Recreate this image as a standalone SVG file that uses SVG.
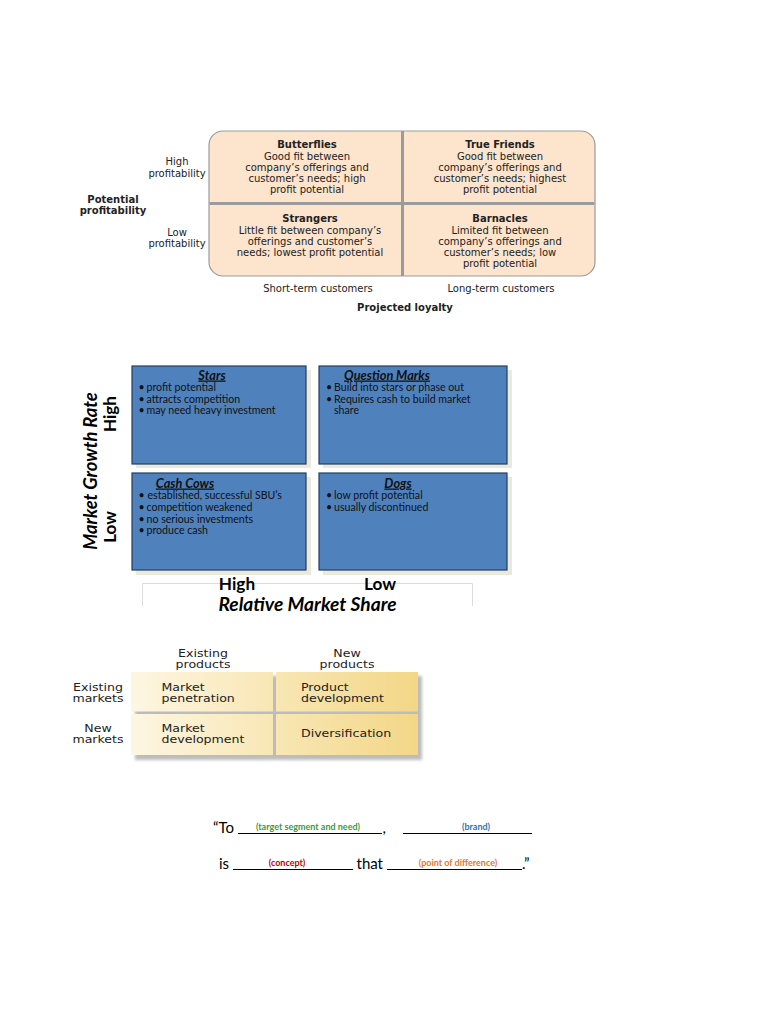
<svg xmlns="http://www.w3.org/2000/svg" width="784" height="1015" viewBox="0 0 784 1015">
<defs>
<style>
.m1 { font-family: "DejaVu Sans", sans-serif; font-size: 10px; fill: #222; text-anchor: middle; }
.b { font-weight: bold; }
.bcg { font-family: Lato, "Open Sans", sans-serif; font-size: 10.6px; fill: #111; }
.bt { font-family: Lato, sans-serif; font-size: 12.8px; font-weight: bold; font-style: italic; text-decoration: underline; text-anchor: middle; fill: #111; }
.box { fill: #4f81bd; stroke: #243f60; stroke-width: 1.2; }
.shadow { fill: #ebe8dc; }
.ax { font-family: Lato, sans-serif; font-weight: bold; fill: #000; text-anchor: middle; }
.an { font-family: "DejaVu Sans", sans-serif; font-size: 10.5px; fill: #222; }
.mid { text-anchor: middle; }
.ps { font-family: Lato, sans-serif; font-size: 15px; fill: #000; }
.lbl { font-family: Lato, sans-serif; font-size: 9px; font-weight: bold; text-anchor: middle; }
.ul { stroke: #000; stroke-width: 1; }
</style>
<linearGradient id="gold" x1="131" y1="0" x2="418" y2="0" gradientUnits="userSpaceOnUse">
<stop offset="0" stop-color="#fdf6e2"/><stop offset="1" stop-color="#f3d787"/>
</linearGradient>
<filter id="blur" x="-10%" y="-10%" width="120%" height="130%"><feGaussianBlur stdDeviation="1.5"/></filter>
</defs>
<rect width="784" height="1015" fill="#fff"/>

<!-- Customer loyalty / profitability matrix -->
<g id="loyalty-matrix">
<rect x="209" y="131" width="386" height="145" rx="14" fill="#fde4cc" stroke="#9b9b9b" stroke-width="1.2"/>
<line x1="402.5" y1="131" x2="402.5" y2="276" stroke="#9b9b9b" stroke-width="3"/>
<line x1="209.6" y1="203.5" x2="594.4" y2="203.5" stroke="#9b9b9b" stroke-width="3"/>
</g>
<g id="butterflies">
<text class="m1 b" x="307" y="148">Butterflies</text>
<text class="m1" x="307" y="160">Good fit between</text>
<text class="m1" x="307" y="171">company’s offerings and</text>
<text class="m1" x="307" y="182">customer’s needs; high</text>
<text class="m1" x="307" y="193">profit potential</text>
</g>
<g id="true-friends">
<text class="m1 b" x="500" y="148">True Friends</text>
<text class="m1" x="500" y="160">Good fit between</text>
<text class="m1" x="500" y="171">company’s offerings and</text>
<text class="m1" x="500" y="182">customer’s needs; highest</text>
<text class="m1" x="500" y="193">profit potential</text>
</g>
<g id="strangers">
<text class="m1 b" x="310" y="222">Strangers</text>
<text class="m1" x="310" y="234">Little fit between company’s</text>
<text class="m1" x="310" y="245">offerings and customer’s</text>
<text class="m1" x="310" y="256">needs; lowest profit potential</text>
</g>
<g id="barnacles">
<text class="m1 b" x="500" y="222">Barnacles</text>
<text class="m1" x="500" y="234">Limited fit between</text>
<text class="m1" x="500" y="245">company’s offerings and</text>
<text class="m1" x="500" y="256">customer’s needs; low</text>
<text class="m1" x="500" y="267">profit potential</text>
</g>
<g id="loyalty-axes">
<text class="m1" x="177" y="165">High</text>
<text class="m1" x="177" y="177">profitability</text>
<text class="m1 b" x="113" y="203">Potential</text>
<text class="m1 b" x="113" y="214">profitability</text>
<text class="m1" x="177" y="236">Low</text>
<text class="m1" x="177" y="247">profitability</text>
<text class="m1" x="318" y="292">Short-term customers</text>
<text class="m1" x="501" y="292">Long-term customers</text>
<text class="m1 b" x="405" y="311">Projected loyalty</text>
</g>

<!-- BCG matrix -->
<g id="stars">
<rect class="shadow" x="136" y="370" width="175" height="98"/>
<rect class="box" x="132" y="366" width="174" height="98"/>
<text class="bt" x="212" y="379.5">Stars</text>
<text class="bcg" x="138.5" y="391">•</text><text class="bcg" x="146.5" y="391">profit potential</text>
<text class="bcg" x="138.5" y="402.5">•</text><text class="bcg" x="146.5" y="402.5">attracts competition</text>
<text class="bcg" x="138.5" y="414">•</text><text class="bcg" x="146.5" y="414">may need heavy investment</text>
</g>
<g id="question-marks">
<rect class="shadow" x="323" y="370" width="189" height="98"/>
<rect class="box" x="319" y="366" width="188" height="98"/>
<text class="bt" x="387" y="379.5">Question Marks</text>
<text class="bcg" x="326" y="391">•</text><text class="bcg" x="334" y="391">Build into stars or phase out</text>
<text class="bcg" x="326" y="402.5">•</text><text class="bcg" x="334" y="402.5">Requires cash to build market</text>
<text class="bcg" x="334" y="414">share</text>
</g>
<g id="cash-cows">
<rect class="shadow" x="136" y="477" width="175" height="98"/>
<rect class="box" x="132" y="473" width="174" height="97"/>
<text class="bt" x="185" y="487.5">Cash Cows</text>
<text class="bcg" x="138.5" y="499">•</text><text class="bcg" x="147.5" y="499">established, successful SBU’s</text>
<text class="bcg" x="138.5" y="511">•</text><text class="bcg" x="146.5" y="511">competition weakened</text>
<text class="bcg" x="138.5" y="522.5">•</text><text class="bcg" x="146.5" y="522.5">no serious investments</text>
<text class="bcg" x="138.5" y="534">•</text><text class="bcg" x="146.5" y="534">produce cash</text>
</g>
<g id="dogs">
<rect class="shadow" x="323" y="477" width="189" height="98"/>
<rect class="box" x="319" y="473" width="188" height="97"/>
<text class="bt" x="398" y="487.5">Dogs</text>
<text class="bcg" x="326" y="499">•</text><text class="bcg" x="334" y="499">low profit potential</text>
<text class="bcg" x="326" y="510.5">•</text><text class="bcg" x="334" y="510.5">usually discontinued</text>
</g>
<g id="bcg-axes">
<path d="M142.5,606 V583.5 H472.5 V606" fill="none" stroke="#dcdcdc" stroke-width="1"/>
<text class="ax" font-size="18.3" font-style="italic" transform="translate(97,471) rotate(-90)">Market Growth Rate</text>
<text class="ax" font-size="17" transform="translate(116,414) rotate(-90)">High</text>
<text class="ax" font-size="17" transform="translate(116,527) rotate(-90)">Low</text>
<text class="ax" font-size="17.2" x="237" y="589.5">High</text>
<text class="ax" font-size="17.2" x="380" y="589.5">Low</text>
<text class="ax" font-size="19.2" font-style="italic" x="307.5" y="610.5">Relative Market Share</text>
</g>

<!-- Ansoff matrix -->
<g id="ansoff-shadow">
<rect x="135" y="676" width="287" height="84" fill="#bcbcbc" filter="url(#blur)"/>
</g>
<g id="market-penetration">
<rect x="131" y="672" width="142" height="39.5" fill="url(#gold)"/>
<text class="an" transform="translate(161.5,690.5) scale(1.2,1)">Market</text>
<text class="an" transform="translate(161.5,701.5) scale(1.2,1)">penetration</text>
</g>
<g id="product-development">
<rect x="276" y="672" width="142" height="39.5" fill="url(#gold)"/>
<text class="an" transform="translate(301,690.5) scale(1.2,1)">Product</text>
<text class="an" transform="translate(301,701.5) scale(1.2,1)">development</text>
</g>
<g id="market-development">
<rect x="131" y="714" width="142" height="41" fill="url(#gold)"/>
<text class="an" transform="translate(161.5,731.5) scale(1.2,1)">Market</text>
<text class="an" transform="translate(161.5,742.5) scale(1.2,1)">development</text>
</g>
<g id="diversification">
<rect x="276" y="714" width="142" height="41" fill="url(#gold)"/>
<text class="an" transform="translate(301,737) scale(1.2,1)">Diversification</text>
</g>
<g id="ansoff-axes">
<text class="an mid" transform="translate(203,656.5) scale(1.2,1)">Existing</text>
<text class="an mid" transform="translate(203,667.5) scale(1.2,1)">products</text>
<text class="an mid" transform="translate(347,656.5) scale(1.2,1)">New</text>
<text class="an mid" transform="translate(347,667.5) scale(1.2,1)">products</text>
<text class="an mid" transform="translate(98,690.5) scale(1.2,1)">Existing</text>
<text class="an mid" transform="translate(98,701.5) scale(1.2,1)">markets</text>
<text class="an mid" transform="translate(98,732) scale(1.2,1)">New</text>
<text class="an mid" transform="translate(98,743) scale(1.2,1)">markets</text>
</g>

<!-- Positioning statement -->
<g id="positioning-statement">
<text class="ps" x="213" y="833">“To</text>
<line class="ul" x1="238" y1="833.5" x2="382" y2="833.5"/>
<text class="lbl" x="308" y="829.5" fill="#3c9a3c">(target segment and need)</text>
<text class="ps" x="382.5" y="833">,</text>
<line class="ul" x1="403" y1="833.5" x2="532" y2="833.5"/>
<text class="lbl" x="476" y="829.5" fill="#2f75b5">(brand)</text>
<text class="ps" x="219" y="869">is</text>
<line class="ul" x1="233" y1="869.5" x2="353" y2="869.5"/>
<text class="lbl" x="287" y="865.5" fill="#c00000">(concept)</text>
<text class="ps" x="356.5" y="869">that</text>
<line class="ul" x1="387" y1="869.5" x2="522" y2="869.5"/>
<text class="lbl" x="458" y="865.5" fill="#e07a2c">(point of difference)</text>
<text class="ps" x="522" y="869">.”</text>
</g>
</svg>
